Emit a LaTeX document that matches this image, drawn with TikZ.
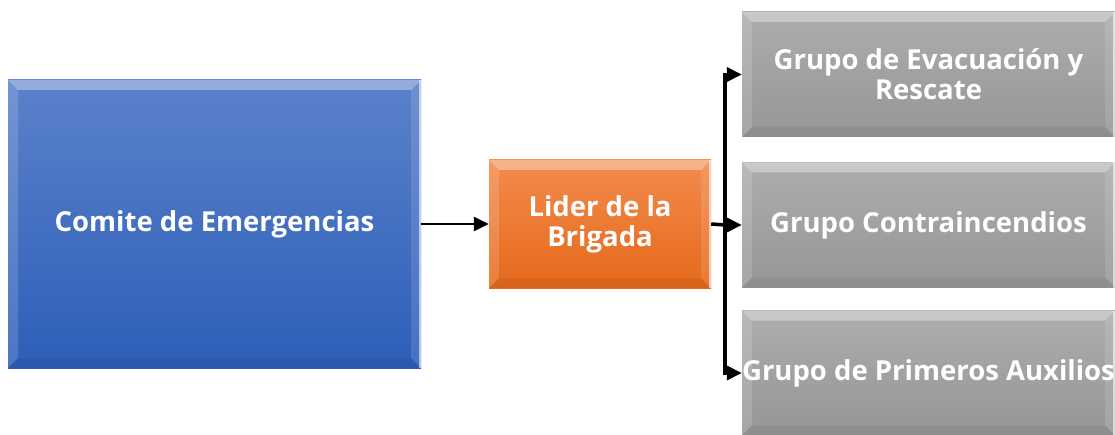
\documentclass[tikz,border=0pt]{standalone}
\usepackage{fontspec}
\setmainfont{Open Sans}
\usetikzlibrary{arrows.meta}
\definecolor{cmtTop}{HTML}{5B82CA}
\definecolor{cmtBot}{HTML}{2E5EB9}
\definecolor{lidTop}{HTML}{F38B4C}
\definecolor{lidBot}{HTML}{E5691B}
\definecolor{grpTop}{HTML}{ADADAD}
\definecolor{grpBot}{HTML}{969696}

\begin{document}
\begin{tikzpicture}[x=1pt,y=1pt]
            \tikzset{
            brg box/.style={rectangle,inner sep=0,align=center,text=white,
              font=\fontsize{27.5}{30}\selectfont\bfseries,
              path picture={
                \fill[white,opacity=0.35] (path picture bounding box.north west) -- (path picture bounding box.north east)
                  -- ([shift={(-10,-10)}]path picture bounding box.north east) -- ([shift={(10,-10)}]path picture bounding box.north west) -- cycle;
                \fill[white,opacity=0.15] (path picture bounding box.north west) -- ([shift={(10,-10)}]path picture bounding box.north west)
                  -- ([shift={(10,10)}]path picture bounding box.south west) -- (path picture bounding box.south west) -- cycle;
                \fill[black,opacity=0.06] (path picture bounding box.south west) -- (path picture bounding box.south east)
                  -- ([shift={(-10,10)}]path picture bounding box.south east) -- ([shift={(10,10)}]path picture bounding box.south west) -- cycle;
                \fill[white,opacity=0.12] (path picture bounding box.north east) -- ([shift={(-10,-10)}]path picture bounding box.north east)
                  -- ([shift={(-10,10)}]path picture bounding box.south east) -- (path picture bounding box.south east) -- cycle;
                \draw[white,opacity=0.6,line width=1.5] ([xshift=-1]path picture bounding box.north east) -- ([xshift=-1]path picture bounding box.south east);
              }},
            cmt box/.style={brg box,top color=cmtTop,bottom color=cmtBot,minimum width=413,minimum height=288},
            lid box/.style={brg box,top color=lidTop,bottom color=lidBot,minimum width=222,minimum height=128},
            grp box/.style={brg box,top color=grpTop,bottom color=grpBot,minimum width=373,minimum height=125},
            brg edge/.style={-{Triangle[length=15,width=14]},line width=2.5},
            brg elbow/.style={brg edge,line width=3.5,to path={|- (\tikztotarget)}}
            }
            \useasboundingbox (0,0) rectangle (1115,434);
            \node[cmt box] (CMT) at (214.5, 210) {Comite de Emergencias};
            \node[lid box] (LID) at (600, 210) {Lider de la\\Brigada};
            \node[grp box] (G1) at (928.5, 359.5) {Grupo de Evacuación y\\Rescate};
            \node[grp box] (G2) at (928.5, 209) {Grupo Contraincendios};
            \node[grp box] (G3) at (928.5, 61) {Grupo de Primeros Auxilios};
            \coordinate (S) at (725, 209);

            \path[draw,brg edge] (CMT.east) -- (LID.west);
            \path[draw,line width=3.5] (LID.east) -- (S);
            \path[draw]
            (S) edge[brg elbow] (G1.west)
            (S) edge[brg elbow] (G2.west)
            (S) edge[brg elbow] (G3.west)
            ;
        \end{tikzpicture}
\end{document}
